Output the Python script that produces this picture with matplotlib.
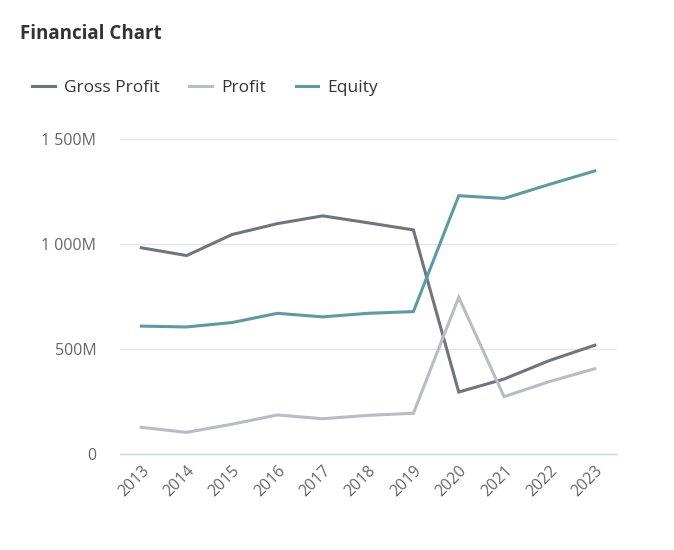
import matplotlib
matplotlib.use("Agg")
import matplotlib.pyplot as plt
from matplotlib.ticker import FuncFormatter

years = ["2013", "2014", "2015", "2016", "2017", "2018", "2019", "2020", "2021", "2022", "2023"]
gross_profit = [982, 945, 1045, 1097, 1134, 1101, 1067, 295, 357, 445, 518]
profit = [127, 103, 142, 186, 168, 184, 194, 746, 273, 345, 406]
equity = [609, 605, 626, 670, 653, 670, 678, 1230, 1217, 1284, 1348]
series_names = ["Gross Profit", "Profit", "Equity"]
colors = ["#6f7480", "#babcc4", "#5e9aa1"]
yticks = [0, 500, 1000, 1500]

plt.rcParams['font.family'] = ['Open Sans', 'DejaVu Sans']

fig = plt.figure(figsize=(6.74, 5.5), dpi=100)
ax = fig.add_axes([120/674, 1-454/550, (617-120)/674, (454-139)/550])

x = list(range(len(years)))
lines = []
for vals, name, c in zip([gross_profit, profit, equity], series_names, colors):
    ln, = ax.plot(x, vals, color=c, lw=2.2, label=name, solid_joinstyle='miter')
    lines.append(ln)

ax.set_xlim(-0.47, len(years) - 1 + 0.49)
ax.set_ylim(0, 1500)
ax.set_yticks(yticks)
def fmt(v, pos):
    v = int(round(v))
    if v == 0:
        return "0"
    s = f"{v:,}".replace(",", " ")
    return s + "M"
ax.yaxis.set_major_formatter(FuncFormatter(fmt))
ax.set_xticks(x)
ax.set_xticklabels(years, rotation=45, ha='right', rotation_mode='anchor')

ax.grid(axis='y', color='#e6e6e6', lw=1)
ax.set_axisbelow(True)
for s in ['top', 'right', 'left']:
    ax.spines[s].set_visible(False)
ax.spines['bottom'].set_color('#ccd6eb')
ax.spines['bottom'].set_linewidth(1)
ax.tick_params(axis='y', length=0, pad=17, labelsize=11.5, labelcolor='#666666')
ax.tick_params(axis='x', length=0, pad=6, labelsize=11.5, labelcolor='#666666')

fig.text(20/674, 1-34/550, "Financial Chart", fontsize=13.5, fontweight='bold',
         color='#333333', va='center', ha='left')

fig.legend(handles=lines, loc='center left', bbox_to_anchor=(32/674, 1-88/550),
           ncol=3, frameon=False, fontsize=12.5, handlelength=1.32, handletextpad=0.52,
           columnspacing=1.7, borderpad=0, borderaxespad=0, labelcolor='#333333')

fig.savefig("out.png", dpi=100)
